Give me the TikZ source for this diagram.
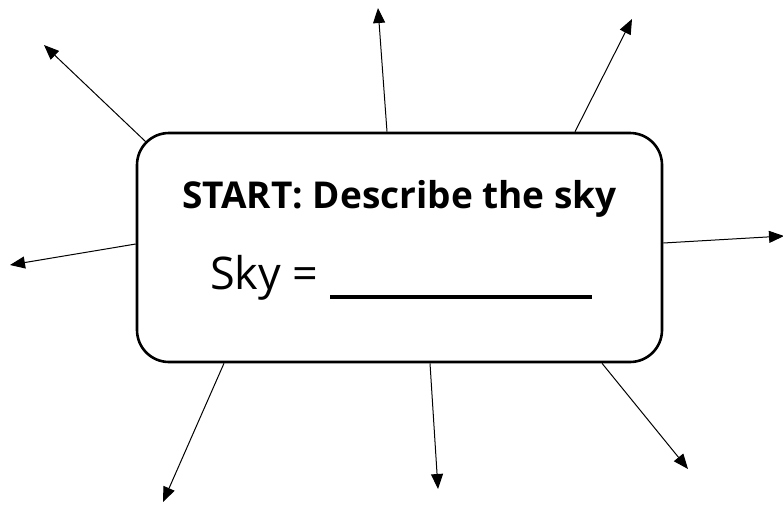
\documentclass[tikz,border=0pt]{standalone}
\usepackage{fontspec}
\setmainfont{Open Sans}
\usetikzlibrary{arrows.meta}
\begin{document}
\begin{tikzpicture}[x=1pt, y=-1pt, line join=round, >={Triangle[length=15pt, width=12pt]}]
		\useasboundingbox (0,0) rectangle (783,504);
		\tikzset{ray/.style={->, line width=1pt}}
		% central box
		\node[draw, line width=2.6pt, rounded corners=32pt, minimum width=525pt, minimum height=229pt] (box) at (399.5,247.5) {};
		\node[anchor=base, font=\bfseries\fontsize{37}{42}\selectfont] (title) at (399.5,208) {START: Describe the sky};
		\node[anchor=base west, inner sep=0pt, font=\fontsize{45}{52}\selectfont] (sky) at (210,289) {Sky =};
		\draw[line width=4pt] (330,297) -- (592,297);
		% rays
		\coordinate (t1) at (44,45);
		\coordinate (t2) at (378,8);
		\coordinate (t3) at (632,19);
		\coordinate (t4) at (784,236);
		\coordinate (t5) at (10,265);
		\coordinate (t6) at (163,502);
		\coordinate (t7) at (438,489);
		\coordinate (t8) at (688,469);
		\draw[ray] ([shift={(10,10)}]box.north west) -- (t1);
		\draw[ray] ([shift={(-12.5,0)}]box.north) -- (t2);
		\draw[ray] ([shift={(175.5,0)}]box.north) -- (t3);
		\draw[ray] ([shift={(0,-4.5)}]box.east) -- (t4);
		\draw[ray] ([shift={(0,-3.5)}]box.west) -- (t5);
		\draw[ray] ([shift={(-175.5,0)}]box.south) -- (t6);
		\draw[ray] ([shift={(30.5,0)}]box.south) -- (t7);
		\draw[ray] ([shift={(202.5,0)}]box.south) -- (t8);
	\end{tikzpicture}
\end{document}
